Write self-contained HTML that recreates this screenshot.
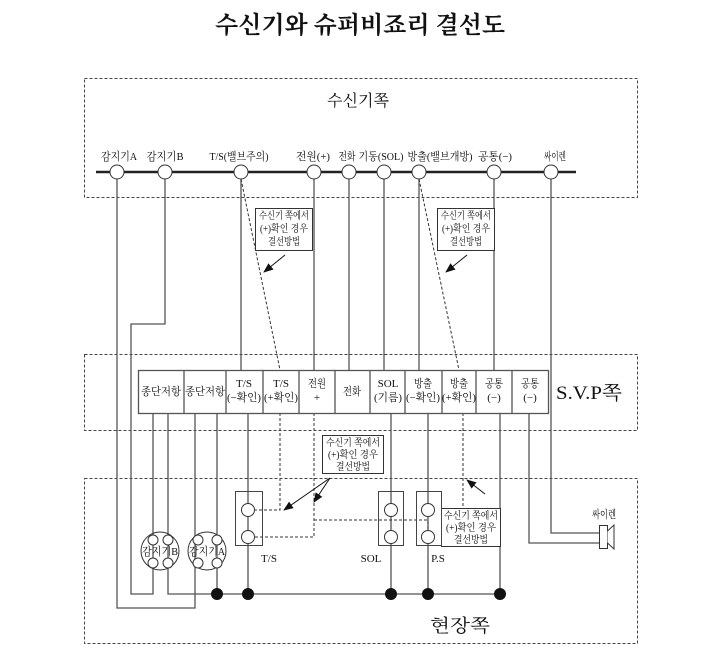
<!DOCTYPE html>
<html><head><meta charset="utf-8"><style>
html,body{margin:0;padding:0;background:#fff;}
svg{display:block;}
text{font-family:"Liberation Serif","Noto Serif CJK KR","Noto Sans CJK KR",serif;fill:#111;}
</style></head><body>
<svg width="723" height="664" viewBox="0 0 723 664" xmlns="http://www.w3.org/2000/svg">
<defs>
<marker id="ar" markerWidth="10" markerHeight="8" refX="9" refY="4" orient="auto" markerUnits="userSpaceOnUse">
<path d="M0,0 L10,4 L0,8 Z" fill="#111"/></marker>
</defs>
<text x="360" y="33" font-size="24" font-weight="bold" text-anchor="middle" textLength="290" lengthAdjust="spacingAndGlyphs">수신기와 슈퍼비죠리 결선도</text>

<g fill="none" stroke="#444" stroke-width="1" stroke-dasharray="3,2">
<rect x="84.5" y="78.5" width="553" height="119"/>
<rect x="84.5" y="354.5" width="553" height="76"/>
<rect x="84.5" y="478.5" width="553" height="165"/>
</g>
<text x="358" y="106" font-size="16" text-anchor="middle" textLength="62" lengthAdjust="spacingAndGlyphs">수신기쪽</text>
<text x="589" y="399" font-size="19" text-anchor="middle" textLength="66" lengthAdjust="spacingAndGlyphs">S.V.P쪽</text>
<text x="460" y="632" font-size="18" text-anchor="middle" textLength="60" lengthAdjust="spacingAndGlyphs">현장쪽</text>

<g font-size="11" text-anchor="middle">
<text x="119" y="160" textLength="36" lengthAdjust="spacingAndGlyphs">감지기A</text>
<text x="165" y="160" textLength="37" lengthAdjust="spacingAndGlyphs">감지기B</text>
<text x="239" y="160" textLength="59" lengthAdjust="spacingAndGlyphs">T/S(밸브주의)</text>
<text x="313" y="160" textLength="34" lengthAdjust="spacingAndGlyphs">전원(+)</text>
<text x="347" y="160" textLength="17" lengthAdjust="spacingAndGlyphs">전화</text>
<text x="381" y="160" textLength="45" lengthAdjust="spacingAndGlyphs">기동(SOL)</text>
<text x="440" y="160" textLength="65" lengthAdjust="spacingAndGlyphs">방출(밸브개방)</text>
<text x="495" y="160" textLength="34" lengthAdjust="spacingAndGlyphs">공통(−)</text>
<text x="555" y="160" textLength="22" lengthAdjust="spacingAndGlyphs">싸이렌</text>
</g>

<g fill="none" stroke="#555" stroke-width="1.3">
<path d="M117,172 V608 H195 V413"/>
<path d="M165,172 V324 H131 V594 H153 V413"/>
<path d="M168,413 V594 H500"/>
<path d="M217,413 V594"/>
<path d="M241,172 V370"/>
<path d="M248,413 V594"/>
<path d="M314,172 V370"/>
<path d="M349,172 V370"/>
<path d="M384,172 V370"/>
<path d="M391,413 V594"/>
<path d="M419,172 V370"/>
<path d="M428,413 V594"/>
<path d="M494,172 V370"/>
<path d="M500,413 V594"/>
<path d="M529,413 V543 H600"/>
<path d="M551,172 V533 H600"/>
</g>
<line x1="96" y1="172" x2="576" y2="172" stroke="#222" stroke-width="2.5"/>
<g fill="#fff" stroke="#333" stroke-width="1">
<circle cx="117" cy="172" r="7"/><circle cx="165" cy="172" r="7"/><circle cx="241" cy="172" r="7"/>
<circle cx="314" cy="172" r="7"/><circle cx="349" cy="172" r="7"/><circle cx="384" cy="172" r="7"/>
<circle cx="419" cy="172" r="7"/><circle cx="494" cy="172" r="7"/><circle cx="551" cy="172" r="7"/>
</g>

<g fill="none" stroke="#333" stroke-width="1" stroke-dasharray="3,2">
<path d="M241,179 L280,370"/>
<path d="M280,413 V510 H255"/>
<path d="M419,179 L459,370"/>
<path d="M463,413 V508"/>
<path d="M314,413 V537 H255"/>
<path d="M314,520 H428 V531"/>
</g>

<rect x="138.5" y="370.5" width="410" height="43" fill="#fff" stroke="#555" stroke-width="1.3"/>
<g stroke="#555" stroke-width="1.3">
<line x1="184" y1="370" x2="184" y2="413"/><line x1="226" y1="370" x2="226" y2="413"/>
<line x1="263" y1="370" x2="263" y2="413"/><line x1="299" y1="370" x2="299" y2="413"/>
<line x1="335" y1="370" x2="335" y2="413"/><line x1="370" y1="370" x2="370" y2="413"/>
<line x1="405" y1="370" x2="405" y2="413"/><line x1="442" y1="370" x2="442" y2="413"/>
<line x1="476" y1="370" x2="476" y2="413"/><line x1="512" y1="370" x2="512" y2="413"/>
</g>
<g font-size="11" text-anchor="middle">
<text x="161" y="395" textLength="40" lengthAdjust="spacingAndGlyphs">종단저항</text>
<text x="205" y="395" textLength="40" lengthAdjust="spacingAndGlyphs">종단저항</text>
<text x="244" y="387">T/S</text><text x="244" y="401" textLength="34" lengthAdjust="spacingAndGlyphs">(−확인)</text>
<text x="281" y="387">T/S</text><text x="281" y="401" textLength="34" lengthAdjust="spacingAndGlyphs">(+확인)</text>
<text x="317" y="387" textLength="18" lengthAdjust="spacingAndGlyphs">전원</text><text x="317" y="401">+</text>
<text x="352" y="395" textLength="18" lengthAdjust="spacingAndGlyphs">전화</text>
<text x="388" y="387">SOL</text><text x="388" y="401" textLength="28" lengthAdjust="spacingAndGlyphs">(기름)</text>
<text x="423" y="387" textLength="18" lengthAdjust="spacingAndGlyphs">방출</text><text x="423" y="401" textLength="34" lengthAdjust="spacingAndGlyphs">(−확인)</text>
<text x="459" y="387" textLength="18" lengthAdjust="spacingAndGlyphs">방출</text><text x="459" y="401" textLength="34" lengthAdjust="spacingAndGlyphs">(+확인)</text>
<text x="494" y="387" textLength="18" lengthAdjust="spacingAndGlyphs">공통</text><text x="494" y="401">(−)</text>
<text x="530" y="387" textLength="18" lengthAdjust="spacingAndGlyphs">공통</text><text x="530" y="401">(−)</text>
</g>

<g fill="#fff" stroke="#333" stroke-width="1">
<rect x="255.5" y="208.5" width="57" height="42"/>
<rect x="437.5" y="208.5" width="57" height="42"/>
<rect x="322.5" y="435.5" width="61" height="38"/>
<rect x="441.5" y="508.5" width="59" height="38"/>
</g>
<g font-size="10" text-anchor="middle">
<text x="284" y="219" textLength="50" lengthAdjust="spacingAndGlyphs">수신기 쪽에서</text><text x="284" y="232" textLength="48" lengthAdjust="spacingAndGlyphs">(+)확인 경우</text><text x="284" y="245" textLength="32" lengthAdjust="spacingAndGlyphs">결선방법</text>
<text x="466" y="219" textLength="50" lengthAdjust="spacingAndGlyphs">수신기 쪽에서</text><text x="466" y="232" textLength="48" lengthAdjust="spacingAndGlyphs">(+)확인 경우</text><text x="466" y="245" textLength="32" lengthAdjust="spacingAndGlyphs">결선방법</text>
<text x="353" y="446" textLength="54" lengthAdjust="spacingAndGlyphs">수신기 쪽에서</text><text x="353" y="458" textLength="50" lengthAdjust="spacingAndGlyphs">(+)확인 경우</text><text x="353" y="470" textLength="34" lengthAdjust="spacingAndGlyphs">결선방법</text>
<text x="471" y="519" textLength="54" lengthAdjust="spacingAndGlyphs">수신기 쪽에서</text><text x="471" y="531" textLength="50" lengthAdjust="spacingAndGlyphs">(+)확인 경우</text><text x="471" y="543" textLength="34" lengthAdjust="spacingAndGlyphs">결선방법</text>
</g>
<g stroke="#111" stroke-width="1" fill="none" marker-end="url(#ar)">
<line x1="285" y1="255" x2="264" y2="272"/>
<line x1="467" y1="255" x2="446" y2="272"/>
<line x1="330" y1="478" x2="284" y2="510"/>
<line x1="330" y1="478" x2="314" y2="502"/>
<line x1="485" y1="494" x2="467" y2="480"/>
</g>

<g fill="none" stroke="#444" stroke-width="1">
<rect x="235.5" y="491.5" width="27" height="54"/>
<rect x="378.5" y="491.5" width="25" height="54"/>
<rect x="416.5" y="491.5" width="25" height="54"/>
</g>
<g fill="#fff" stroke="#333" stroke-width="1">
<circle cx="248" cy="510" r="6.5"/><circle cx="248" cy="537" r="6.5"/>
<circle cx="391" cy="510" r="6.5"/><circle cx="391" cy="537" r="6.5"/>
<circle cx="428" cy="510" r="6.5"/><circle cx="428" cy="537" r="6.5"/>
<circle cx="160" cy="551" r="19" fill="none"/><circle cx="207" cy="551" r="19" fill="none"/>
<circle cx="153" cy="540" r="5"/><circle cx="168" cy="540" r="5"/><circle cx="153" cy="563" r="5"/><circle cx="168" cy="563" r="5"/>
<circle cx="198" cy="540" r="5"/><circle cx="217" cy="540" r="5"/><circle cx="198" cy="563" r="5"/><circle cx="217" cy="563" r="5"/>
</g>
<g font-size="11" text-anchor="middle">
<text x="160" y="555" textLength="36" lengthAdjust="spacingAndGlyphs">감지기B</text>
<text x="207" y="555" textLength="36" lengthAdjust="spacingAndGlyphs">감지기A</text>
<text x="269" y="562">T/S</text>
<text x="371" y="562">SOL</text>
<text x="438" y="562">P.S</text>
<text x="604" y="518" textLength="24" lengthAdjust="spacingAndGlyphs">싸이렌</text>
</g>
<g fill="#111">
<circle cx="217" cy="594" r="6"/><circle cx="248" cy="594" r="6"/><circle cx="391" cy="594" r="6"/>
<circle cx="428" cy="594" r="6"/><circle cx="500" cy="594" r="6"/>
</g>
<rect x="599.5" y="525.5" width="8" height="23" fill="#fff" stroke="#333"/>
<path d="M607.5,531 L614,525 V549 L607.5,543" fill="#fff" stroke="#333"/>
</svg>
</body></html>
